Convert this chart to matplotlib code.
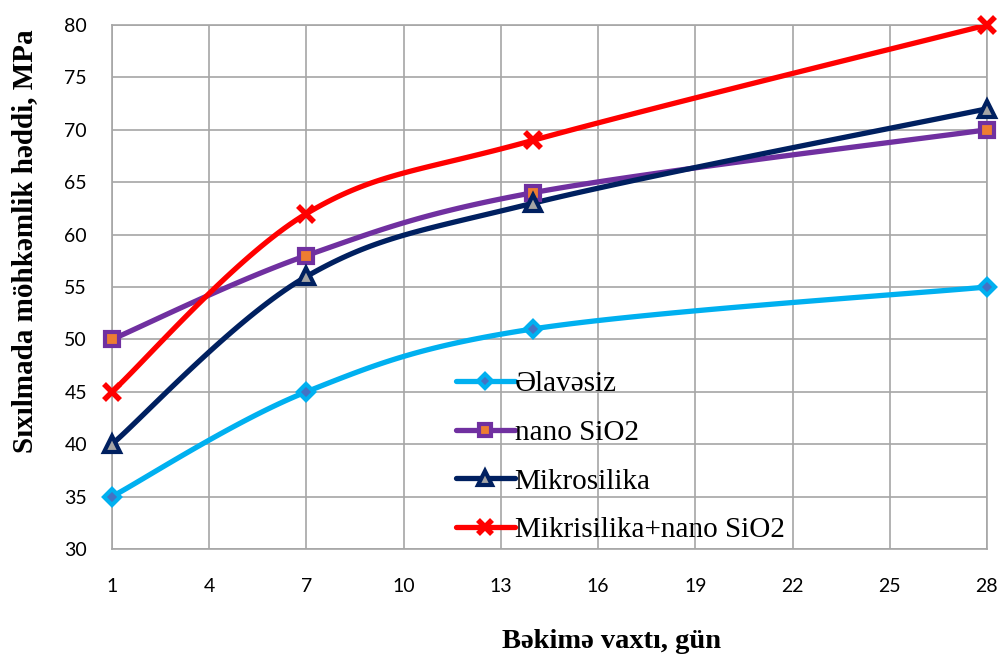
import matplotlib
matplotlib.use('Agg')
import matplotlib.pyplot as plt
import numpy as np

# curing age (days) and compressive strength (MPa)
days = [1, 7, 14, 28]
s_plain = [35, 45, 51, 55]
s_nano = [50, 58, 64, 70]
s_micro = [40, 56, 63, 72]
s_mix = [45, 62, 69, 80]
labels = ['Əlavəsiz', 'nano SiO2', 'Mikrosilika', 'Mikrisilika+nano SiO2']
xticks = list(range(1, 29, 3))
yticks = list(range(30, 81, 5))


def smooth(x, y, n=40):
    # Excel-like smoothed line: cubic Bezier through points (Catmull-Rom tangents)
    p = np.column_stack([x, y]).astype(float)
    p = np.vstack([p[0], p, p[-1]])
    out = []
    t = np.linspace(0, 1, n)[:, None]
    for i in range(1, len(p) - 2):
        p0, p1 = p[i], p[i + 1]
        c0 = p0 + (p[i + 1] - p[i - 1]) / 6
        c1 = p1 - (p[i + 2] - p[i]) / 6
        seg = ((1 - t) ** 3) * p0 + 3 * ((1 - t) ** 2) * t * c0 + 3 * (1 - t) * t ** 2 * c1 + t ** 3 * p1
        out.append(seg if i == 1 else seg[1:])
    seg = np.vstack(out)
    return seg[:, 0], seg[:, 1]


fig = plt.figure(figsize=(10.03, 6.57), dpi=100)
ax = fig.add_axes([0.1117, 0.1644, 0.8723, 0.7976])

styles = [
    dict(color='#00B0F0', marker='D', mfc='#4472C4', mec='#00B0F0', ms=8, mew=3),
    dict(color='#7030A0', marker='s', mfc='#ED7D31', mec='#7030A0', ms=10, mew=3),
    dict(color='#002060', marker='^', mfc='#A5A5A5', mec='#002060', ms=11, mew=3),
    dict(color='#FF0000', marker='x', mfc='#FF0000', mec='#FF0000', ms=11, mew=4),
]

handles = []
for ys, lab, st in zip([s_plain, s_nano, s_micro, s_mix], labels, styles):
    sx, sy = smooth(days, ys)
    ax.plot(sx, sy, color=st['color'], lw=3.8, solid_capstyle='round', zorder=3)
    ax.plot(days, ys, ls='none', marker=st['marker'], mfc=st['mfc'], mec=st['mec'],
            ms=st['ms'], mew=st['mew'], zorder=4, clip_on=False)
    h, = ax.plot([], [], color=st['color'], lw=3.8, marker=st['marker'], mfc=st['mfc'],
                 mec=st['mec'], ms=st['ms'] * 0.9, mew=st['mew'], label=lab,
                 solid_capstyle='round')
    handles.append(h)

ax.set_xlim(1, 28)
ax.set_ylim(30, 80)
ax.set_xticks(xticks)
ax.set_yticks(yticks)
ax.grid(True, color='#A6A6A6', lw=1.2)
ax.set_axisbelow(True)
for sp in ax.spines.values():
    sp.set_color('#A6A6A6')
    sp.set_linewidth(1.2)
ax.tick_params(length=0, labelsize=14)
ax.tick_params(axis='x', pad=21)
ax.tick_params(axis='y', pad=18)
for lbl in ax.get_xticklabels() + ax.get_yticklabels():
    lbl.set_family('Lato')

fig.text(0.024, 0.633, 'Sıxılmada möhkəmlik həddi, MPa', family='Liberation Serif',
         fontsize=21, fontweight='bold', rotation=90, ha='center', va='center')
fig.text(0.61, 0.024, 'Bəkimə vaxtı, gün', family='Liberation Serif',
         fontsize=20.5, fontweight='bold', ha='center', va='center')

leg = ax.legend(handles=handles, loc='upper left', bbox_to_anchor=(0.38, 0.362),
                frameon=False, prop={'family': 'Liberation Serif', 'size': 21},
                handlelength=2.0, handletextpad=0.0, labelspacing=0.76, borderaxespad=0)

fig.savefig('out.png', dpi=100)
